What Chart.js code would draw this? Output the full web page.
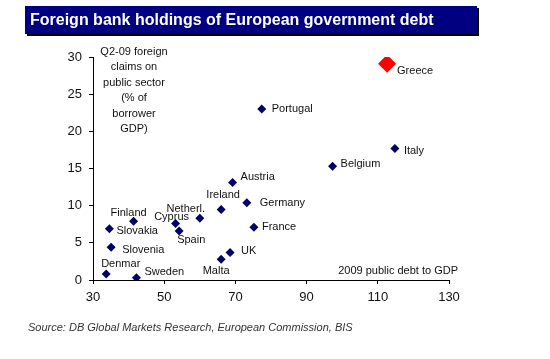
<!DOCTYPE html>
<html><head><meta charset="utf-8">
<script src="https://cdn.jsdelivr.net/npm/chart.js@4"></script>
<style>html,body{margin:0;padding:0;background:#fff;}#wrap{width:550px;height:359px;position:relative;}</style>
</head><body><div id="wrap"><canvas id="c" width="550" height="359"></canvas></div>
<script>
const countries = ['Greece','Italy','Portugal','Belgium','Austria','Ireland','Germany','Netherl.','France','Cyprus','Spain','UK','Malta','Finland','Slovakia','Slovenia','Denmar','Sweden'];
const debtToGDP = [112.6,114.8,77.4,97.3,69.2,66.0,73.2,60.0,75.2,53.2,54.2,68.5,66.0,41.4,34.6,35.1,33.7,42.2];
const foreignClaims = [29.1,17.7,23.0,15.3,13.1,9.5,10.4,8.3,7.1,7.6,6.6,3.7,2.8,7.9,6.9,4.4,0.8,0.3];
const highlighted = ['Greece'];
const xTicks = [30,50,70,90,110,130];
const yTicks = [0,5,10,15,20,25,30];
const titleText = 'Foreign bank holdings of European government debt';
const yTitleLines = ['Q2-09 foreign','claims on','public sector','(% of','borrower','GDP)'];
const xTitleText = '2009 public debt to GDP';
const sourceText = 'Source: DB Global Markets Research, European Commission, BIS';

// label placement (pixel offsets from the point, alignment)
const labelPlace = {
  'Greece':[10,7,'left'], 'Italy':[9,3,'left'], 'Portugal':[10,0,'left'], 'Belgium':[8,-2,'left'],
  'Austria':[8,-6,'left'], 'Ireland':[2,-14,'center'], 'Germany':[13,0,'left'], 'Netherl.':[-14,-9,'center'],
  'France':[8,0,'left'], 'Cyprus':[-4,-7,'center'], 'Spain':[-2,9,'left'], 'UK':[11,-2,'left'],
  'Malta':[-5,12,'center'], 'Finland':[-5,-8,'center'], 'Slovakia':[7,2,'left'], 'Slovenia':[11,3,'left'],
  'Denmar':[-5,-10,'left'], 'Sweden':[8,-6,'left']
};

const normalPts = [], hiPts = [];
countries.forEach((c,i)=>{
  const p = {x:debtToGDP[i], y:foreignClaims[i], label:c};
  (highlighted.includes(c) ? hiPts : normalPts).push(p);
});

const FONT = "'Liberation Sans', Arial, sans-serif";

const decor = {
  id:'decor',
  beforeDraw(chart){
    const ctx = chart.ctx;
    ctx.save();
    ctx.fillStyle = '#fff'; ctx.fillRect(0,0,chart.width,chart.height);
    ctx.fillStyle = '#000'; ctx.fillRect(27,8,452,28);
    ctx.fillStyle = '#000080'; ctx.fillRect(25,6,452,28);
    ctx.fillStyle = '#fff'; ctx.font = 'bold 16px '+FONT; ctx.textBaseline='middle'; ctx.textAlign='left';
    ctx.fillText(titleText, 30, 21);
    ctx.fillStyle = '#333'; ctx.font = 'italic 11px '+FONT;
    ctx.fillText(sourceText, 28, 328);
    ctx.restore();
  },
  afterDatasetsDraw(chart){
    const ctx = chart.ctx;
    ctx.save();
    ctx.fillStyle = '#111'; ctx.font = '11px '+FONT; ctx.textBaseline='middle';
    chart.data.datasets.forEach((ds,di)=>{
      const meta = chart.getDatasetMeta(di);
      meta.data.forEach((el,j)=>{
        const name = ds.data[j].label;
        const pl = labelPlace[name] || [8,0,'left'];
        ctx.textAlign = pl[2];
        ctx.fillText(name, el.x+pl[0], el.y+pl[1]);
      });
    });
    // y axis title
    const ca = chart.chartArea;
    ctx.textAlign='center';
    yTitleLines.forEach((l,i)=>ctx.fillText(l, 134, 52+i*15.4));
    ctx.textAlign='right';
    ctx.fillText(xTitleText, 458, 271);
    ctx.restore();
  }
};

new Chart(document.getElementById('c'), {
  type:'scatter',
  data:{datasets:[
    {data:normalPts, pointStyle:'rectRot', pointRadius:4.5, pointHoverRadius:4.5, backgroundColor:'#000066', borderColor:'#000066', borderWidth:0},
    {data:hiPts, pointStyle:'rectRot', pointRadius:9, pointHoverRadius:9, backgroundColor:'#ff0000', borderColor:'#ff0000', borderWidth:0}
  ]},
  options:{
    responsive:false, animation:false, devicePixelRatio:1,
    layout:{padding:{left:0,top:57,right:101,bottom:0}},
    plugins:{legend:{display:false}, tooltip:{enabled:false}, title:{display:false}},
    scales:{
      x:{type:'linear', min:30, max:130,
        afterBuildTicks(s){ s.ticks = xTicks.map(v=>({value:v})); },
        afterFit(s){ s.height = 79; },
        grid:{drawOnChartArea:false, drawTicks:true, tickLength:4, color:'#000'},
        border:{color:'#000', width:1},
        ticks:{color:'#111', font:{family:FONT, size:13}, padding:6, maxRotation:0}
      },
      y:{type:'linear', min:0, max:30,
        afterBuildTicks(s){ s.ticks = yTicks.map(v=>({value:v})); },
        afterFit(s){ s.width = 93; },
        grid:{drawOnChartArea:false, drawTicks:true, tickLength:4, color:'#000'},
        border:{color:'#000', width:1},
        ticks:{color:'#111', font:{family:FONT, size:13}, padding:7}
      }
    }
  },
  plugins:[decor]
});
</script></body></html>
